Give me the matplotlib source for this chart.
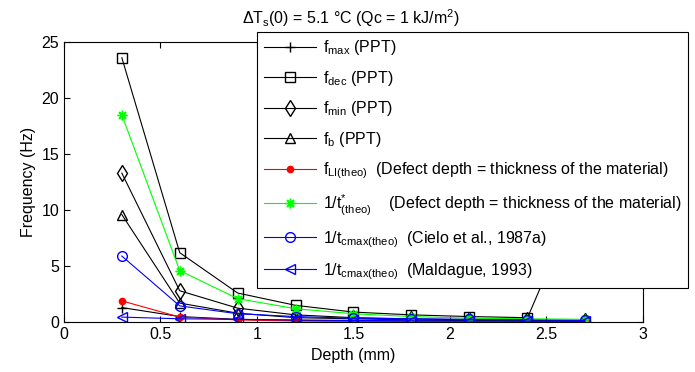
import numpy as np
import matplotlib
matplotlib.use("Agg")
import matplotlib.pyplot as plt

plt.rcParams['font.family'] = ['Liberation Sans', 'DejaVu Sans']
plt.rcParams['mathtext.fontset'] = 'custom'
plt.rcParams['mathtext.rm'] = 'Liberation Sans'
plt.rcParams['mathtext.it'] = 'Liberation Sans:italic'
plt.rcParams['mathtext.default'] = 'regular'

# Datos
profundidad = [0.3, 0.6, 0.9, 1.2, 1.5, 1.8, 2.1, 2.4, 2.7]
f_max = [1.3, 0.5, 0.25, 0.15, 0.12, 0.1, 0.1, 0.3, 12.4]
f_dec = [23.6, 6.2, 2.6, 1.5, 0.9, 0.65, 0.5, 0.4]
f_min = [13.3, 2.8, 1.25, 0.65, 0.4, 0.3, 0.2, 0.15, 0.1]
f_b = [9.6, 1.7, 0.8, 0.4, 0.3, 0.2, 0.15, 0.1, 0.1]
f_li = [1.9, 0.45, 0.2, 0.1, 0.07, 0.05, 0.04, 0.03, 0.02]
t_estrella = [18.5, 4.6, 2.1, 1.2, 0.75, 0.5, 0.35, 0.3, 0.25]
t_cielo = [5.9, 1.45, 0.75, 0.5, 0.35, 0.3, 0.25, 0.2, 0.15]
t_maldague = [0.45, 0.3, 0.25, 0.2, 0.15, 0.12, 0.1, 0.08, 0.07]

etiquetas = [
    r'f$_{max}$ (PPT)',
    r'f$_{dec}$ (PPT)',
    r'f$_{min}$ (PPT)',
    r'f$_{b}$ (PPT)',
    r'f$_{LI(theo)}$  (Defect depth = thickness of the material)',
    r'1/t$^{*}_{(theo)}$    (Defect depth = thickness of the material)',
    r'1/t$_{cmax(theo)}$  (Cielo et al., 1987a)',
    r'1/t$_{cmax(theo)}$  (Maldague, 1993)',
]

fs = 11.5
fig = plt.figure(figsize=(6.95, 3.72), dpi=100)
ax = fig.add_axes([0.092, 0.134, 0.833, 0.753])

lw = 0.8
ax.plot(profundidad, f_max, color='k', marker='+', ms=7, lw=lw, label=etiquetas[0])
ax.plot(profundidad[:len(f_dec)], f_dec, color='k', marker='s', ms=7, mfc='none', lw=lw, label=etiquetas[1])
ax.plot(profundidad, f_min, color='k', marker='d', ms=8, mfc='none', lw=lw, label=etiquetas[2])
ax.plot(profundidad, f_b, color='k', marker='^', ms=7.5, mfc='none', lw=lw, label=etiquetas[3])
ax.plot(profundidad, f_li, color='red', marker='.', ms=9, lw=lw, label=etiquetas[4])
ax.plot(profundidad, t_estrella, color='#00ff00', marker=(8, 2, 0), ms=7, lw=lw, label=etiquetas[5])
ax.plot(profundidad, t_cielo, color='blue', marker='o', ms=7, mfc='none', lw=lw, label=etiquetas[6])
ax.plot(profundidad, t_maldague, color='blue', marker='<', ms=7.5, mfc='none', lw=lw, label=etiquetas[7])

ax.set_xlim(0, 3)
ax.set_ylim(0, 25)
ax.set_xticks([0, 0.5, 1, 1.5, 2, 2.5, 3])
ax.set_xticklabels(['0', '0.5', '1', '1.5', '2', '2.5', '3'])
ax.set_yticks([0, 5, 10, 15, 20, 25])
ax.tick_params(direction='in', top=True, right=True, labelsize=fs, length=4, width=0.8)
for s in ax.spines.values():
    s.set_linewidth(0.8)

ax.set_xlabel('Depth (mm)', fontsize=fs)
ax.set_ylabel('Frequency (Hz)', fontsize=fs)
fig.text(0.505, 0.952, r'$\Delta$T$_s$(0) = 5.1 °C (Qc = 1 kJ/m$^2$)', ha='center', va='center', fontsize=fs)

ley = fig.legend(loc='upper left', bbox_to_anchor=(0.37, 0.914), bbox_transform=fig.transFigure,
                 fontsize=fs, numpoints=1, handlelength=3.3, handletextpad=0.4,
                 labelspacing=0.72, borderpad=0.4, borderaxespad=0, fancybox=False,
                 framealpha=1, edgecolor='k')
ley.get_frame().set_linewidth(0.8)

fig.savefig('out.png', dpi=100)
